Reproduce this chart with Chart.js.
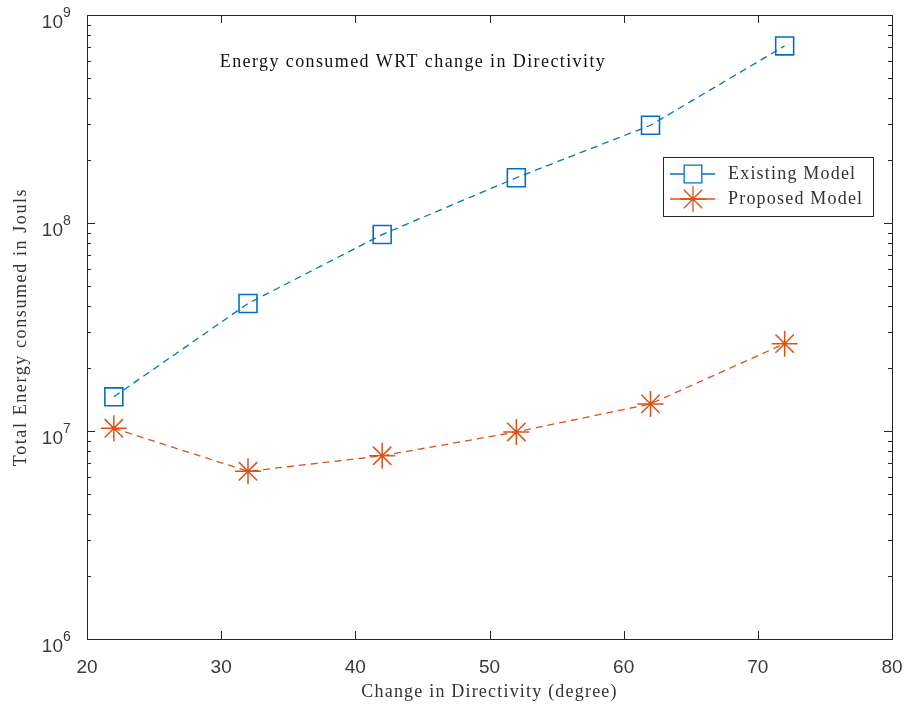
<!DOCTYPE html>
<html lang="en">
  <head>
    <meta charset="UTF-8" />
    <title>Energy consumed WRT change in Directivity</title>
    <style>
      html, body { margin: 0; padding: 0; background: #fff; }
      .container { position: relative; width: 909px; height: 713px; }
    </style>
    <script src="https://cdn.jsdelivr.net/npm/chart.js"></script>
  </head>
  <body>
    <div class="container">
      <canvas id="chart" width="909" height="713"></canvas>
    </div>
    <script>
      // data
      const directivity = [22, 32, 42, 52, 62, 72];
      const existingModel = [1.46e7, 4.1e7, 8.8e7, 1.65e8, 2.95e8, 7.1e8];
      const proposedModel = [1.03e7, 6.4e6, 7.6e6, 9.9e6, 1.35e7, 2.63e7];
      const xTicks = [20, 30, 40, 50, 60, 70, 80];
      const yDecades = [6, 7, 8, 9];

      const BLUE = "#0072BD";
      const ORANGE = "#D95319";
      const AXIS = "#262626";
      const SERIF = "'Liberation Serif', 'Times New Roman', serif";
      const SANS = "'Liberation Sans', Arial, sans-serif";

      const toPoints = (ys) => directivity.map((x, i) => ({ x: x, y: ys[i] }));

      // frame, inward ticks, tick labels, title, legend (MATLAB look)
      const matlabAxes = {
        id: "matlabAxes",
        afterDraw(chart) {
          const c = chart.ctx;
          const a = chart.chartArea;
          const xs = chart.scales.x;
          const ys = chart.scales.y;
          c.save();
          c.strokeStyle = AXIS;
          c.lineWidth = 1;
          c.strokeRect(a.left + 0.5, a.top + 0.5, a.right - a.left, a.bottom - a.top);

          // x ticks, bottom and top
          c.beginPath();
          xTicks.forEach((v) => {
            const px = Math.round(xs.getPixelForValue(v)) + 0.5;
            c.moveTo(px, a.bottom); c.lineTo(px, a.bottom - 8);
            c.moveTo(px, a.top); c.lineTo(px, a.top + 8);
          });
          // y ticks, left and right, major and minor
          yDecades.forEach((d) => {
            for (let m = 1; m <= 9; m++) {
              const v = m * Math.pow(10, d);
              if (v > 1e9) break;
              const py = Math.round(ys.getPixelForValue(v)) + 0.5;
              const len = m === 1 ? 8 : 4;
              c.moveTo(a.left, py); c.lineTo(a.left + len, py);
              c.moveTo(a.right, py); c.lineTo(a.right - len, py);
            }
          });
          c.stroke();

          // tick labels
          c.fillStyle = "#3a3a3a";
          c.font = "19px " + SANS;
          c.textAlign = "center";
          c.textBaseline = "alphabetic";
          xTicks.forEach((v) => {
            c.fillText(String(v), xs.getPixelForValue(v), a.bottom + 34);
          });
          yDecades.forEach((d) => {
            const py = ys.getPixelForValue(Math.pow(10, d));
            c.font = "19px " + SANS;
            c.textAlign = "right";
            c.fillText("10", a.left - 24, py + 13);
            c.font = "14px " + SANS;
            c.textAlign = "left";
            c.fillText(String(d), a.left - 24, py + 2);
          });

          // axis titles
          c.fillStyle = "#333";
          c.font = "18px " + SERIF;
          c.textAlign = "center";
          c.letterSpacing = "1.2px";
          c.fillText("Change in Directivity (degree)", (a.left + a.right) / 2, 697);
          c.save();
          c.translate(26, (a.top + a.bottom) / 2);
          c.rotate(-Math.PI / 2);
          c.letterSpacing = "1.6px";
          c.fillText("Total Energy consumed in Jouls", 0, 0);
          c.restore();

          // title inside the axes
          c.font = "18px " + SERIF;
          c.letterSpacing = "1.4px";
          c.fillStyle = "#111";
          c.fillText("Energy consumed WRT change in Directivity", 413, 67);

          // legend
          c.letterSpacing = "0px";
          const lx = 663, ly = 157, lw = 210, lh = 59;
          c.fillStyle = "#fff";
          c.fillRect(lx, ly, lw, lh);
          c.strokeStyle = AXIS;
          c.strokeRect(lx + 0.5, ly + 0.5, lw, lh);
          const rows = [
            { label: "Existing Model", color: BLUE, style: "rect", y: ly + 17 },
            { label: "Proposed Model", color: ORANGE, style: "star", y: ly + 42 },
          ];
          rows.forEach((r) => {
            c.strokeStyle = r.color;
            c.lineWidth = 1.3;
            c.beginPath();
            c.moveTo(lx + 7, r.y); c.lineTo(lx + 52, r.y);
            c.stroke();
            Chart.helpers.drawPoint(c, { pointStyle: r.style, radius: r.style === "rect" ? 12.5 : 13, borderWidth: 1.5 }, lx + 30, r.y);
            c.fillStyle = "#333";
            c.font = "18px " + SERIF;
            c.letterSpacing = "1.2px";
            c.textAlign = "left";
            c.textBaseline = "middle";
            c.fillText(r.label, lx + 65, r.y);
          });
          c.restore();
        },
      };

      const ctx = document.getElementById("chart");
      const chart = new Chart(ctx, {
        type: "line",
        data: {
          datasets: [
            {
              label: "Existing Model",
              data: toPoints(existingModel),
              borderColor: BLUE,
              backgroundColor: "rgba(0,0,0,0)",
              borderWidth: 1.3,
              borderDash: [7, 5],
              pointStyle: "rect",
              pointRadius: 12.7,
              pointBorderWidth: 1.6,
              pointBorderColor: BLUE,
              pointBackgroundColor: "rgba(0,0,0,0)",
              tension: 0,
            },
            {
              label: "Proposed Model",
              data: toPoints(proposedModel),
              borderColor: ORANGE,
              backgroundColor: ORANGE,
              borderWidth: 1.3,
              borderDash: [7, 5],
              pointStyle: "star",
              pointRadius: 13,
              pointBorderWidth: 1.5,
              pointBorderColor: ORANGE,
              tension: 0,
            },
          ],
        },
        options: {
          responsive: false,
          animation: false,
          layout: { padding: { top: 15, right: 17, left: 0, bottom: 0 } },
          scales: {
            x: {
              type: "linear",
              min: 20,
              max: 80,
              grid: { display: false },
              border: { display: false },
              ticks: { display: false },
              afterFit: (s) => { s.height = 74; },
            },
            y: {
              type: "logarithmic",
              min: 1e6,
              max: 1e9,
              grid: { display: false },
              border: { display: false },
              ticks: { display: false },
              afterFit: (s) => { s.width = 87; },
            },
          },
          plugins: {
            legend: { display: false },
            tooltip: { enabled: false },
          },
        },
        plugins: [matlabAxes],
      });
    </script>
  </body>
</html>
